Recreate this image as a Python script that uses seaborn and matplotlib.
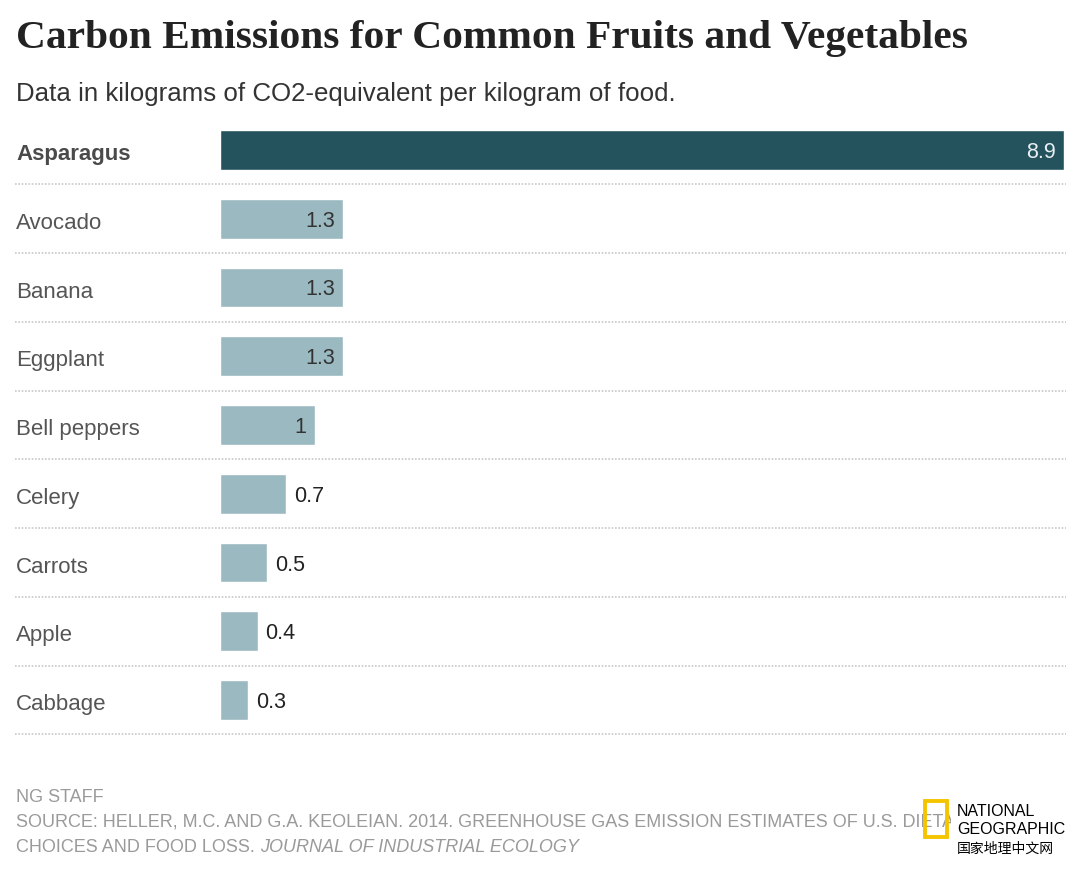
import pandas as pd
import matplotlib.pyplot as plt
import matplotlib.patches as patches
import seaborn as sns

# data
foods = ["Asparagus", "Avocado", "Banana", "Eggplant", "Bell peppers",
         "Celery", "Carrots", "Apple", "Cabbage"]
emissions = [8.9, 1.3, 1.3, 1.3, 1.0, 0.7, 0.5, 0.4, 0.3]
value_labels = ["8.9", "1.3", "1.3", "1.3", "1", "0.7", "0.5", "0.4", "0.3"]

DARK = "#24535e"
LIGHT = "#9bb9c0"

df = pd.DataFrame({"food": foods, "emissions": emissions})
colors = [DARK] + [LIGHT] * (len(foods) - 1)

sns.set_style("white")
plt.rcParams["font.family"] = ["Liberation Sans", "DejaVu Sans"]

fig = plt.figure(figsize=(10.8, 8.75), dpi=100)
ax = fig.add_axes([220 / 1080, 1 - 734.4 / 875, 844 / 1080, (734.4 - 115.6) / 875])

sns.barplot(data=df, x="emissions", y="food", hue="food", palette=colors,
            orient="h", width=0.58, legend=False, ax=ax, saturation=1)

ax.set_xlim(0, 8.9)
ax.set_ylim(len(foods) - 0.5, -0.5)
ax.set_xlabel("")
ax.set_ylabel("")
ax.set_xticks([])
ax.set_yticks([])
sns.despine(ax=ax, left=True, bottom=True)

# row labels and dotted separators
lab_x = (16 - 220) / 844
for i, name in enumerate(foods):
    ax.text(lab_x, i + 0.03, name, transform=ax.get_yaxis_transform(), ha="left",
            va="center_baseline", fontsize=16, color="#4a4a4a" if i == 0 else "#555555",
            fontweight="bold" if i == 0 else "normal")
    ax.axhline(i + 0.5, xmin=(15 - 220) / 844, xmax=1.002, color="#c8c8c8",
               linestyle=(0, (1, 1)), linewidth=1.2, clip_on=False)

# value labels
for i, (v, lbl) in enumerate(zip(emissions, value_labels)):
    if v >= 1:
        ax.text(v - 0.09, i, lbl, ha="right", va="center_baseline", fontsize=15.5,
                color="#e8f0f2" if i == 0 else "#333333")
    else:
        ax.text(v + 0.08, i, lbl, ha="left", va="center_baseline", fontsize=15.5,
                color="#222222")

# titles
fig.text(16 / 1080, 1 - 34 / 875, "Carbon Emissions for Common Fruits and Vegetables",
         family=["Liberation Serif", "DejaVu Serif"], fontweight="bold", fontsize=29.8,
         color="#222222", va="center_baseline", ha="left")
fig.text(16 / 1080, 1 - 92 / 875, "Data in kilograms of CO2-equivalent per kilogram of food.",
         fontsize=18.6, color="#333333", va="center_baseline", ha="left")

# footer
grey = "#9a9a9a"
fs = 13
fig.text(16 / 1080, 1 - 795 / 875, "NG STAFF", fontsize=fs, color=grey, va="center_baseline")
fig.text(16 / 1080, 1 - 820 / 875,
         "SOURCE: HELLER, M.C. AND G.A. KEOLEIAN. 2014. GREENHOUSE GAS EMISSION ESTIMATES OF U.S. DIETARY",
         fontsize=fs, color=grey, va="center_baseline", zorder=3)
t1 = fig.text(16 / 1080, 1 - 845 / 875, "CHOICES AND FOOD LOSS. ", fontsize=fs,
              color=grey, va="center_baseline")
ax.annotate("JOURNAL OF INDUSTRIAL ECOLOGY", xy=(1, 0), xycoords=t1, va="bottom",
            ha="left", fontsize=fs, color=grey, style="italic", annotation_clip=False)

# logo, drawn over the end of the source line like in the original
fig.patches.append(patches.Rectangle((951 / 1080, 1 - 858 / 875), 120 / 1080, 58 / 875,
                                     transform=fig.transFigure, facecolor="white",
                                     edgecolor="none", zorder=5))
fig.patches.append(patches.Rectangle((925 / 1080, 1 - 837 / 875), 22 / 1080, 36 / 875,
                                     transform=fig.transFigure, facecolor="none",
                                     edgecolor="#f5c400", linewidth=2.8, zorder=6))
fig.text(957 / 1080, 1 - 811 / 875, "NATIONAL", fontsize=11.5, color="black",
         va="center", ha="left", zorder=7)
fig.text(957 / 1080, 1 - 829 / 875, "GEOGRAPHIC", fontsize=11.5, color="black",
         va="center", ha="left", zorder=7)
fig.text(957 / 1080, 1 - 849 / 875, "国家地理中文网", fontsize=10, color="black",
         va="center", ha="left", family=["Noto Sans CJK SC", "DejaVu Sans"], zorder=7)

fig.savefig("out.png", dpi=100)
